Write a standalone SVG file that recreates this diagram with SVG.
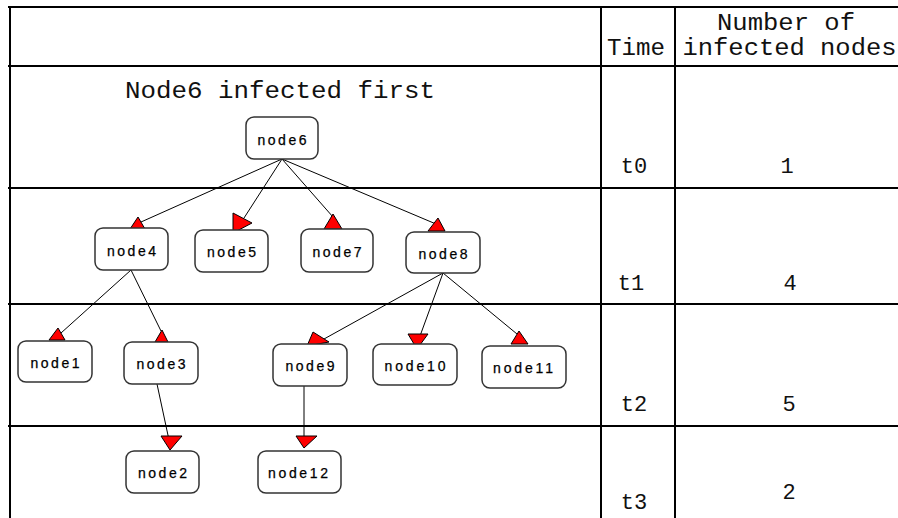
<svg xmlns="http://www.w3.org/2000/svg" width="898" height="518" viewBox="0 0 898 518">
<style>
.grid{stroke:#000;stroke-width:2;fill:none}
.box{fill:#fff;stroke:#333;stroke-width:1.5}
.lbl{font-family:"Liberation Sans",Arial,sans-serif;font-size:14px;fill:#000;text-anchor:middle;stroke:#000;stroke-width:0.25}
.mono{font-family:"Liberation Mono","Courier New",monospace;font-size:24px;fill:#111}
.cell{font-family:"Liberation Mono","Courier New",monospace;font-size:22px;fill:#111;text-anchor:middle}
.edge{stroke:#000;stroke-width:1;fill:none}
.head{fill:#f00;stroke:#000;stroke-width:1}
</style>
<rect width="898" height="518" fill="#fff"/>
<g id="table" class="grid">
<line x1="8" y1="7" x2="898" y2="7"/>
<line x1="8" y1="66" x2="898" y2="66"/>
<line x1="8" y1="188" x2="898" y2="188"/>
<line x1="8" y1="304" x2="898" y2="304"/>
<line x1="8" y1="426" x2="898" y2="426"/>
<line x1="10" y1="7" x2="10" y2="518"/>
<line x1="601" y1="7" x2="601" y2="518"/>
<line x1="675" y1="7" x2="675" y2="518"/>
</g>
<g id="table-text">
<text class="mono" x="125" y="98" textLength="310" lengthAdjust="spacingAndGlyphs">Node6 infected first</text>
<text class="mono" x="786" y="30" text-anchor="middle" textLength="138" lengthAdjust="spacingAndGlyphs">Number of</text>
<text class="mono" x="789.5" y="55" text-anchor="middle" textLength="214" lengthAdjust="spacingAndGlyphs">infected nodes</text>
<text class="mono" x="636" y="55" text-anchor="middle" textLength="58" lengthAdjust="spacingAndGlyphs">Time</text>
<text class="cell" x="634" y="173">t0</text>
<text class="cell" x="787" y="173">1</text>
<text class="cell" x="631" y="290">t1</text>
<text class="cell" x="790" y="290">4</text>
<text class="cell" x="634" y="411">t2</text>
<text class="cell" x="789" y="411">5</text>
<text class="cell" x="634" y="509">t3</text>
<text class="cell" x="789" y="499">2</text>
</g>
<g id="connectors">
<line class="edge" x1="282" y1="159" x2="141" y2="222"/>
<line class="edge" x1="282" y1="159" x2="244" y2="218"/>
<line class="edge" x1="282" y1="159" x2="333" y2="217"/>
<line class="edge" x1="282" y1="159" x2="436" y2="224"/>
<line class="edge" x1="131" y1="270" x2="61" y2="333"/>
<line class="edge" x1="131" y1="270" x2="161" y2="331"/>
<line class="edge" x1="443" y1="273" x2="324" y2="339"/>
<line class="edge" x1="443" y1="273" x2="420" y2="336"/>
<line class="edge" x1="443" y1="273" x2="517" y2="334"/>
<line class="edge" x1="157" y1="384" x2="169" y2="440"/>
<line class="edge" x1="304" y1="386" x2="304" y2="437"/>
<polygon class="head" points="138,217 145,229 130,229"/>
<polygon class="head" points="233,213 252,223 233,233"/>
<polygon class="head" points="333,214 342,229 324,229"/>
<polygon class="head" points="438,218 445,231 428,231"/>
<polygon class="head" points="58,328 65,340 49,340"/>
<polygon class="head" points="162,330 168,342 155,342"/>
<polygon class="head" points="313,332 329,342 307,346"/>
<polygon class="head" points="408,334 428,334 417,349"/>
<polygon class="head" points="519,331 528,344 511,344"/>
<polygon class="head" points="161,436 182,436 170,450"/>
<polygon class="head" points="296,436 317,436 304,448"/>
</g>
<g id="node6"><rect class="box" x="246" y="117" width="72" height="42" rx="8"/><text class="lbl" x="282" y="145" textLength="49" lengthAdjust="spacing">node6</text></g>
<g id="node4"><rect class="box" x="95" y="228" width="73" height="42" rx="8"/><text class="lbl" x="131.5" y="256" textLength="49" lengthAdjust="spacing">node4</text></g>
<g id="node5"><rect class="box" x="195" y="230" width="73" height="42" rx="8"/><text class="lbl" x="231.5" y="257" textLength="49" lengthAdjust="spacing">node5</text></g>
<g id="node7"><rect class="box" x="301" y="229" width="72" height="43" rx="8"/><text class="lbl" x="337" y="257" textLength="49" lengthAdjust="spacing">node7</text></g>
<g id="node8"><rect class="box" x="406" y="232" width="74" height="41" rx="8"/><text class="lbl" x="443" y="259" textLength="49" lengthAdjust="spacing">node8</text></g>
<g id="node1"><rect class="box" x="18" y="341" width="74" height="41" rx="8"/><text class="lbl" x="55" y="368" textLength="49" lengthAdjust="spacing">node1</text></g>
<g id="node3"><rect class="box" x="124" y="342" width="74" height="42" rx="8"/><text class="lbl" x="161" y="369" textLength="49" lengthAdjust="spacing">node3</text></g>
<g id="node9"><rect class="box" x="273" y="344" width="74" height="42" rx="8"/><text class="lbl" x="310" y="371" textLength="49" lengthAdjust="spacing">node9</text></g>
<g id="node10"><rect class="box" x="373" y="344" width="84" height="41" rx="8"/><text class="lbl" x="415" y="371" textLength="61" lengthAdjust="spacing">node10</text></g>
<g id="node11"><rect class="box" x="482" y="346" width="84" height="42" rx="8"/><text class="lbl" x="523" y="373" textLength="60" lengthAdjust="spacing">node11</text></g>
<g id="node2"><rect class="box" x="126" y="451" width="73" height="42" rx="8"/><text class="lbl" x="162.5" y="478" textLength="49" lengthAdjust="spacing">node2</text></g>
<g id="node12"><rect class="box" x="258" y="451" width="83" height="42" rx="8"/><text class="lbl" x="298" y="478" textLength="60" lengthAdjust="spacing">node12</text></g>
</svg>
